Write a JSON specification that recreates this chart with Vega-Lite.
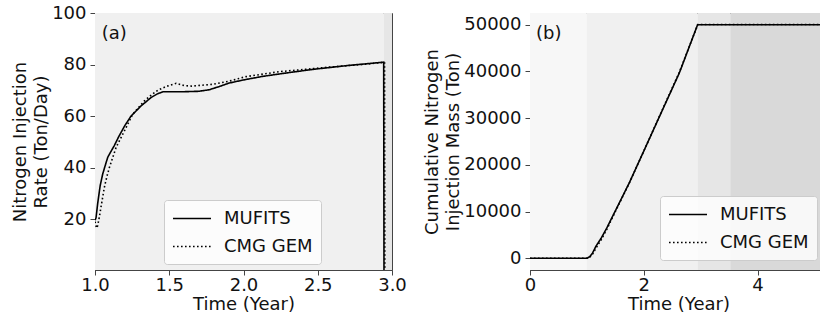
{
  "$schema": "https://vega.github.io/schema/vega-lite/v6.json",
  "padding": {"left": 11, "top": 3, "right": 0, "bottom": 0},
  "spacing": 16,
  "config": {
    "font": "DejaVu Sans",
    "view": {"stroke": "#444", "strokeWidth": 1},
    "axis": {
      "labelFontSize": 18, "titleFontSize": 18, "titleFontWeight": "normal",
      "labelColor": "#111", "titleColor": "#111", "labelFlush": false,
      "tickSize": 5, "tickColor": "#444", "domainColor": "#444",
      "grid": false, "titlePadding": 1, "titleLineHeight": 21
    },
    "axisX": {"labelPadding": 1},
    "axisY": {"labelPadding": 4},
    "legend": {
      "labelFontSize": 18, "labelColor": "#111", "labelFont": "DejaVu Sans",
      "fillColor": "rgba(255,255,255,0.8)", "strokeColor": "#cccccc", "cornerRadius": 3,
      "padding": 8, "symbolType": "M-2,0H2", "symbolSize": 361, "symbolStrokeWidth": 1.6,
      "symbolStrokeColor": "black", "symbolOffset": 9.5, "labelOffset": 21.5, "rowPadding": 8, "title": null
    }
  },
  "resolve": {"scale": {"strokeDash": "independent", "color": "shared"}, "legend": {"strokeDash": "independent"}},
  "hconcat": [
    {
      "width": 297, "height": 257,
      "layer": [
        {
          "data": {"values": [
            {"start": 1, "end": 2.945, "shade": "s1"},
            {"start": 2.945, "end": 3, "shade": "s2"}
          ]},
          "mark": {"type": "rect", "clip": true},
          "encoding": {
            "x": {"field": "start", "type": "quantitative", "scale": {"domain": [1, 3], "nice": false},
                  "axis": {"values": [1, 1.5, 2, 2.5, 3], "format": ".1f", "title": "Time (Year)"}},
            "x2": {"field": "end"},
            "color": {"field": "shade", "type": "nominal", "legend": null,
                      "scale": {"domain": ["s0", "s1", "s2", "s3"], "range": ["#f7f7f7", "#f0f0f0", "#e6e6e6", "#d9d9d9"]}}
          }
        },
        {
          "data": {"values": [
            {"t": 1.0, "v": 19.5, "model": "MUFITS"},
            {"t": 1.007, "v": 20.5, "model": "MUFITS"},
            {"t": 1.018, "v": 26, "model": "MUFITS"},
            {"t": 1.035, "v": 33, "model": "MUFITS"},
            {"t": 1.052, "v": 37.5, "model": "MUFITS"},
            {"t": 1.07, "v": 41, "model": "MUFITS"},
            {"t": 1.086, "v": 44, "model": "MUFITS"},
            {"t": 1.11, "v": 46.5, "model": "MUFITS"},
            {"t": 1.13, "v": 48.5, "model": "MUFITS"},
            {"t": 1.16, "v": 52, "model": "MUFITS"},
            {"t": 1.2, "v": 56.2, "model": "MUFITS"},
            {"t": 1.243, "v": 60, "model": "MUFITS"},
            {"t": 1.31, "v": 63.9, "model": "MUFITS"},
            {"t": 1.378, "v": 67.2, "model": "MUFITS"},
            {"t": 1.42, "v": 68.6, "model": "MUFITS"},
            {"t": 1.457, "v": 69.4, "model": "MUFITS"},
            {"t": 1.5, "v": 69.4, "model": "MUFITS"},
            {"t": 1.58, "v": 69.4, "model": "MUFITS"},
            {"t": 1.7, "v": 69.6, "model": "MUFITS"},
            {"t": 1.77, "v": 70.2, "model": "MUFITS"},
            {"t": 1.85, "v": 71.7, "model": "MUFITS"},
            {"t": 1.904, "v": 72.8, "model": "MUFITS"},
            {"t": 2.0, "v": 74, "model": "MUFITS"},
            {"t": 2.13, "v": 75.4, "model": "MUFITS"},
            {"t": 2.3, "v": 76.8, "model": "MUFITS"},
            {"t": 2.466, "v": 78.1, "model": "MUFITS"},
            {"t": 2.7, "v": 79.6, "model": "MUFITS"},
            {"t": 2.944, "v": 80.9, "model": "MUFITS"},
            {"t": 2.946, "v": -2, "model": "MUFITS"},
            {"t": 1.0, "v": 19, "model": "CMG GEM"},
            {"t": 1.01, "v": 16.5, "model": "CMG GEM"},
            {"t": 1.018, "v": 17.4, "model": "CMG GEM"},
            {"t": 1.03, "v": 21, "model": "CMG GEM"},
            {"t": 1.04, "v": 24.5, "model": "CMG GEM"},
            {"t": 1.063, "v": 32.3, "model": "CMG GEM"},
            {"t": 1.08, "v": 36.5, "model": "CMG GEM"},
            {"t": 1.097, "v": 40, "model": "CMG GEM"},
            {"t": 1.12, "v": 44, "model": "CMG GEM"},
            {"t": 1.142, "v": 47.8, "model": "CMG GEM"},
            {"t": 1.17, "v": 51, "model": "CMG GEM"},
            {"t": 1.198, "v": 54.2, "model": "CMG GEM"},
            {"t": 1.254, "v": 60.7, "model": "CMG GEM"},
            {"t": 1.333, "v": 65.9, "model": "CMG GEM"},
            {"t": 1.38, "v": 68.2, "model": "CMG GEM"},
            {"t": 1.423, "v": 70, "model": "CMG GEM"},
            {"t": 1.48, "v": 71.5, "model": "CMG GEM"},
            {"t": 1.547, "v": 72.7, "model": "CMG GEM"},
            {"t": 1.6, "v": 71.8, "model": "CMG GEM"},
            {"t": 1.65, "v": 71.6, "model": "CMG GEM"},
            {"t": 1.79, "v": 72.3, "model": "CMG GEM"},
            {"t": 1.9, "v": 73.5, "model": "CMG GEM"},
            {"t": 2.017, "v": 75.3, "model": "CMG GEM"},
            {"t": 2.24, "v": 77.2, "model": "CMG GEM"},
            {"t": 2.58, "v": 79, "model": "CMG GEM"},
            {"t": 2.8, "v": 80, "model": "CMG GEM"},
            {"t": 2.95, "v": 80.9, "model": "CMG GEM"},
            {"t": 2.952, "v": -2, "model": "CMG GEM"}
          ]},
          "mark": {"type": "line", "color": "black", "strokeWidth": 1.6, "clip": true},
          "encoding": {
            "x": {"field": "t", "type": "quantitative", "scale": {"domain": [1, 3], "nice": false}},
            "y": {"field": "v", "type": "quantitative", "scale": {"domain": [0.2, 100], "nice": false},
                  "axis": {"values": [20, 40, 60, 80, 100], "title": ["Nitrogen Injection", "Rate (Ton/Day)"]}},
            "strokeDash": {"field": "model", "type": "nominal",
                           "scale": {"domain": ["MUFITS", "CMG GEM"], "range": [[1, 0], [1.6, 2.4]]},
                           "legend": {"orient": "none", "legendX": 69, "legendY": 187}}
          }
        },
        {
          "data": {"values": [{"label": "(a)"}]},
          "mark": {"type": "text", "align": "left", "baseline": "middle", "fontSize": 18, "color": "#111"},
          "encoding": {
            "x": {"datum": 1.045, "type": "quantitative", "scale": {"domain": [1, 3], "nice": false}},
            "y": {"datum": 92, "type": "quantitative", "scale": {"domain": [0.2, 100], "nice": false}},
            "text": {"field": "label"}
          }
        }
      ]
    },
    {
      "width": 297, "height": 257,
      "layer": [
        {
          "data": {"values": [
            {"start": 0, "end": 1, "shade": "s0"},
            {"start": 1, "end": 2.945, "shade": "s1"},
            {"start": 2.945, "end": 3.52, "shade": "s2"},
            {"start": 3.52, "end": 5.22, "shade": "s3"}
          ]},
          "mark": {"type": "rect", "clip": true},
          "encoding": {
            "x": {"field": "start", "type": "quantitative", "scale": {"domain": [0, 5.22], "nice": false},
                  "axis": {"values": [0, 2, 4], "format": "d", "title": "Time (Year)"}},
            "x2": {"field": "end"},
            "color": {"field": "shade", "type": "nominal", "legend": null,
                      "scale": {"domain": ["s0", "s1", "s2", "s3"], "range": ["#f7f7f7", "#f0f0f0", "#e6e6e6", "#d9d9d9"]}}
          }
        },
        {
          "data": {"values": [
            {"t": 0, "v": 0, "model": "MUFITS"},
            {"t": 1.0, "v": 0, "model": "MUFITS"},
            {"t": 1.05, "v": 350, "model": "MUFITS"},
            {"t": 1.1, "v": 1150, "model": "MUFITS"},
            {"t": 1.16, "v": 2600, "model": "MUFITS"},
            {"t": 1.25, "v": 4300, "model": "MUFITS"},
            {"t": 1.35, "v": 6500, "model": "MUFITS"},
            {"t": 1.452, "v": 9000, "model": "MUFITS"},
            {"t": 1.6, "v": 12600, "model": "MUFITS"},
            {"t": 1.745, "v": 16150, "model": "MUFITS"},
            {"t": 2.039, "v": 24000, "model": "MUFITS"},
            {"t": 2.33, "v": 31800, "model": "MUFITS"},
            {"t": 2.624, "v": 39650, "model": "MUFITS"},
            {"t": 2.946, "v": 50000, "model": "MUFITS"},
            {"t": 5.22, "v": 50000, "model": "MUFITS"},
            {"t": 0, "v": 0, "model": "CMG GEM"},
            {"t": 1.0, "v": 0, "model": "CMG GEM"},
            {"t": 1.05, "v": 250, "model": "CMG GEM"},
            {"t": 1.1, "v": 900, "model": "CMG GEM"},
            {"t": 1.16, "v": 2200, "model": "CMG GEM"},
            {"t": 1.25, "v": 3950, "model": "CMG GEM"},
            {"t": 1.35, "v": 6200, "model": "CMG GEM"},
            {"t": 1.452, "v": 8800, "model": "CMG GEM"},
            {"t": 1.6, "v": 12500, "model": "CMG GEM"},
            {"t": 1.745, "v": 16100, "model": "CMG GEM"},
            {"t": 2.039, "v": 24000, "model": "CMG GEM"},
            {"t": 2.33, "v": 31900, "model": "CMG GEM"},
            {"t": 2.624, "v": 39800, "model": "CMG GEM"},
            {"t": 2.95, "v": 50050, "model": "CMG GEM"},
            {"t": 5.22, "v": 50050, "model": "CMG GEM"}
          ]},
          "mark": {"type": "line", "color": "black", "strokeWidth": 1.6, "clip": true},
          "encoding": {
            "x": {"field": "t", "type": "quantitative", "scale": {"domain": [0, 5.22], "nice": false}},
            "y": {"field": "v", "type": "quantitative", "scale": {"domain": [-2500, 52500], "nice": false},
                  "axis": {"values": [0, 10000, 20000, 30000, 40000, 50000], "format": "d",
                           "title": ["Cumulative Nitrogen", "Injection Mass (Ton)"]}},
            "strokeDash": {"field": "model", "type": "nominal",
                           "scale": {"domain": ["MUFITS", "CMG GEM"], "range": [[1, 0], [1.6, 2.4]]},
                           "legend": {"orient": "bottom-right", "offset": 10}}
          }
        },
        {
          "data": {"values": [{"label": "(b)"}]},
          "mark": {"type": "text", "align": "left", "baseline": "middle", "fontSize": 18, "color": "#111"},
          "encoding": {
            "x": {"datum": 0.105, "type": "quantitative", "scale": {"domain": [0, 5.22], "nice": false}},
            "y": {"datum": 47900, "type": "quantitative", "scale": {"domain": [-2500, 52500], "nice": false}},
            "text": {"field": "label"}
          }
        }
      ]
    }
  ]
}
